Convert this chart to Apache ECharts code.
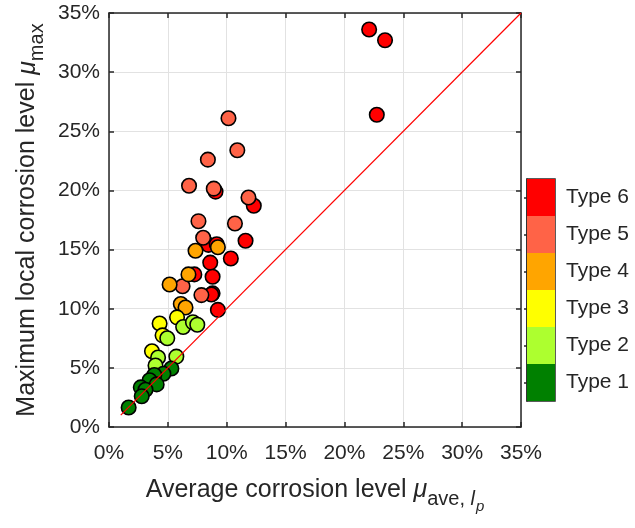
<!DOCTYPE html>
<html>
<head>
<meta charset="utf-8">
<script src="https://cdn.jsdelivr.net/npm/echarts@6/dist/echarts.min.js"></script>
<style>
  html, body { margin: 0; padding: 0; background: #fff; }
  #chart { width: 635px; height: 528px; }
</style>
</head>
<body>
<div id="chart"></div>
<script>
// Corrosion levels in percent: [average level, maximum local level]
const type6 = [[22.1, 33.6], [23.45, 32.7], [22.75, 26.4], [12.3, 18.7], [9.05, 19.9], [8.45, 15.4],
  [9.15, 15.45], [11.6, 15.75], [10.35, 14.25], [8.6, 13.9], [8.8, 12.7], [7.25, 12.9],
  [8.8, 11.3], [8.7, 11.2], [9.25, 9.9]];
const type5 = [[10.15, 26.1], [10.9, 23.4], [8.4, 22.6], [6.8, 20.4], [8.9, 20.15], [11.85, 19.4],
  [7.6, 17.4], [10.7, 17.2], [8.0, 16.0], [6.25, 11.9], [7.85, 11.15]];
const type4 = [[7.35, 14.9], [9.25, 15.2], [6.75, 12.9], [5.15, 12.05], [6.1, 10.4], [6.5, 10.1]];
const type3 = [[4.3, 8.75], [5.78, 9.27], [4.55, 7.75], [3.65, 6.4]];
const type2 = [[6.3, 8.45], [7.13, 8.85], [7.5, 8.65], [4.95, 7.5], [4.17, 5.88], [5.72, 5.95], [3.95, 5.2]];
const type1 = [[5.3, 4.95], [4.62, 4.5], [3.85, 4.4], [3.45, 3.95], [4.05, 3.6], [2.7, 3.35],
  [3.1, 3.15], [2.78, 2.6], [1.67, 1.65]];

// Line of equality (maximum = average)
const equalityLine = [[1, 1], [35, 35]];

// Colour scale entries, bottom to top
const typeNames = ['Type 1', 'Type 2', 'Type 3', 'Type 4', 'Type 5', 'Type 6'];
const typeColors = ['#008000', '#adff2f', '#ffff00', '#ffa500', '#ff6347', '#ff0000'];
const typeValues = [1, 1, 1, 1, 1, 1];

// Axis ticks (percent)
const axisMin = 0, axisMax = 35, axisStep = 5;

const FONT = '"Liberation Sans", Arial, Helvetica, sans-serif';
const INK = '#262626';

const chart = echarts.init(document.getElementById('chart'), null, { renderer: 'canvas' });

const frameAxis = (extra) => Object.assign({
  type: 'value', min: axisMin, max: axisMax, interval: axisStep,
  axisLine: { show: true, onZero: false, lineStyle: { color: INK, width: 1.5 } },
  axisTick: { show: true, inside: true, length: 5, lineStyle: { color: INK, width: 1.5 } },
  splitLine: { show: false },
  axisLabel: { show: false }
}, extra);

const groupsByType = [type1, type2, type3, type4, type5, type6];
const scatterSeries = [];
for (let i = groupsByType.length - 1; i >= 0; i--) {
  scatterSeries.push({
    type: 'scatter', name: typeNames[i], xAxisIndex: 0, yAxisIndex: 0,
    data: groupsByType[i], symbol: 'circle', symbolSize: 14.5,
    itemStyle: { color: typeColors[i], borderColor: '#000', borderWidth: 1.6, opacity: 1 },
    emphasis: { disabled: true }
  });
}

const option = {
  animation: false,
  backgroundColor: '#fff',
  textStyle: { fontFamily: FONT },
  grid: [
    { left: 109, top: 13, width: 412, height: 414, show: false },
    { left: 527, top: 179, width: 28, height: 222, show: true, borderColor: INK, borderWidth: 1.5, backgroundColor: 'transparent' }
  ],
  xAxis: [
    frameAxis({
      gridIndex: 0, position: 'bottom',
      axisLabel: { show: true, formatter: '{value}%', color: INK, fontSize: 21, fontFamily: FONT, margin: 16 },
      splitLine: { show: true, lineStyle: { color: '#e2e2e2', width: 1 } },
      name: '{t|Average corrosion level }{mu|μ}{s|ave, }{si|l}{ss|p}',
      nameLocation: 'middle', nameGap: 62,
      nameTextStyle: {
        color: INK, fontFamily: FONT,
        rich: {
          t: { fontSize: 25, color: INK, fontFamily: FONT, verticalAlign: 'bottom', lineHeight: 25, padding: [0, 0, 11, 0] },
          mu: { fontSize: 25, color: INK, fontFamily: FONT, fontStyle: 'italic', verticalAlign: 'bottom', lineHeight: 25, padding: [0, 0, 11, 0] },
          s: { fontSize: 20, color: INK, fontFamily: FONT, verticalAlign: 'bottom', lineHeight: 20, padding: [0, 0, 5, 0] },
          si: { fontSize: 20, color: INK, fontFamily: FONT, fontStyle: 'italic', verticalAlign: 'bottom', lineHeight: 20, padding: [0, 0, 5, 0] },
          ss: { fontSize: 15, color: INK, fontFamily: FONT, fontStyle: 'italic', verticalAlign: 'bottom', lineHeight: 15, padding: [0, 0, 0, 1] }
        }
      }
    }),
    frameAxis({ gridIndex: 0, position: 'top' }),
    { gridIndex: 1, type: 'value', min: 0, max: 1, show: false }
  ],
  yAxis: [
    frameAxis({
      gridIndex: 0, position: 'left',
      axisLabel: { show: true, formatter: '{value}%', color: INK, fontSize: 21, fontFamily: FONT, margin: 9 },
      splitLine: { show: true, lineStyle: { color: '#e2e2e2', width: 1 } },
      name: '{t|Maximum local corrosion level }{mu|μ}{s|max}',
      nameLocation: 'middle', nameGap: 58, nameRotate: 90,
      nameTextStyle: {
        color: INK, fontFamily: FONT,
        rich: {
          t: { fontSize: 25, color: INK, fontFamily: FONT, verticalAlign: 'bottom', lineHeight: 25, padding: [0, 0, 7, 0] },
          mu: { fontSize: 25, color: INK, fontFamily: FONT, fontStyle: 'italic', verticalAlign: 'bottom', lineHeight: 25, padding: [0, 0, 7, 0] },
          s: { fontSize: 20, color: INK, fontFamily: FONT, verticalAlign: 'bottom', lineHeight: 20, padding: [0, 0, 0, 0] }
        }
      }
    }),
    frameAxis({ gridIndex: 0, position: 'right' }),
    {
      gridIndex: 1, type: 'category', data: typeNames, position: 'right',
      boundaryGap: true,
      axisLine: { show: true, lineStyle: { color: INK, width: 1.5 } },
      axisTick: { show: true, inside: true, alignWithLabel: true, length: 3, lineStyle: { color: INK, width: 1.5 } },
      axisLabel: { show: true, color: INK, fontSize: 21, fontFamily: FONT, margin: 11 },
      splitLine: { show: false }
    }
  ],
  series: scatterSeries.concat([
    {
      type: 'line', xAxisIndex: 0, yAxisIndex: 0, data: equalityLine,
      symbol: 'none', lineStyle: { color: '#ff0000', width: 1.2 }, z: 5, silent: true
    },
    {
      type: 'bar', xAxisIndex: 2, yAxisIndex: 2,
      data: typeValues.map((v, i) => ({ value: v, itemStyle: { color: typeColors[i] } })),
      barWidth: '100%', barCategoryGap: 0, silent: true, z: 1
    }
  ])
};

chart.setOption(option);
</script>
</body>
</html>
